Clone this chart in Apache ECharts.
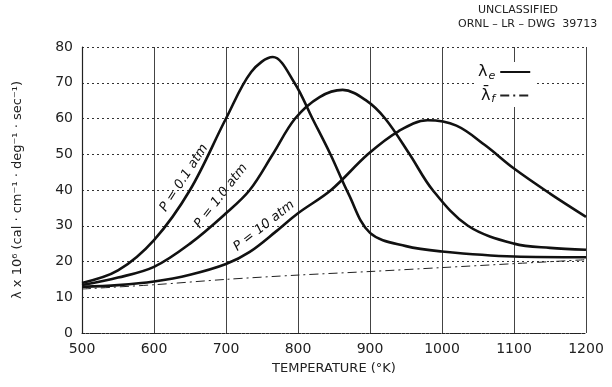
<!DOCTYPE html>
<html>
<head>
<meta charset="utf-8">
<script src="https://cdn.jsdelivr.net/npm/echarts@6/dist/echarts.min.js"></script>
<style>
  html, body { margin: 0; padding: 0; background: #fff; }
  #chart { width: 612px; height: 387px; }
</style>
</head>
<body>
<div id="chart"></div>
<script>
// values (temperature in °K, lambda x 10^6)
var temps01 = [500, 550, 600, 650, 700, 735, 765, 795, 820, 845, 870, 900, 950, 1000, 1100, 1200];
var vals01  = [14, 17.5, 26, 40, 60, 73, 77.2, 70, 60, 50, 39, 28, 24.3, 22.8, 21.4, 21.2];

var temps1 = [500, 550, 600, 650, 700, 733, 765, 796, 830, 862, 895, 921, 955, 987, 1036, 1100, 1150, 1200];
var vals1  = [13.4, 15.5, 18.5, 25, 33.5, 40, 50, 60, 66, 68, 65, 60, 50, 40, 30, 25, 23.8, 23.3];

var temps10 = [500, 550, 600, 650, 700, 733, 770, 800, 846, 897, 940, 980, 1020, 1060, 1100, 1150, 1200];
var vals10  = [12.9, 13.4, 14.4, 16.3, 19.3, 22.7, 28.5, 33.5, 40, 50, 56.5, 59.5, 58, 52.5, 46, 39, 32.5];

var tempsF = [500, 600, 700, 800, 900, 1000, 1100, 1200];
var valsF  = [12.3, 13.5, 15, 16.2, 17.2, 18.3, 19.4, 20.5];

var xTicks = [500, 600, 700, 800, 900, 1000, 1100, 1200];
var yTicks = [0, 10, 20, 30, 40, 50, 60, 70, 80];

function pairs(xs, ys) {
  return xs.map(function (x, i) { return [x, ys[i]]; });
}

var font = 'DejaVu Sans';
var chart = echarts.init(document.getElementById('chart'));

var solid = { color: '#111', width: 2.6 };

chart.setOption({
  backgroundColor: '#fff',
  animation: false,
  textStyle: { fontFamily: font },
  grid: { left: 82, top: 47, right: 26, bottom: 54 },
  xAxis: {
    type: 'value',
    min: xTicks[0],
    max: xTicks[xTicks.length - 1],
    interval: 100,
    name: 'TEMPERATURE (°K)',
    nameLocation: 'middle',
    nameGap: 29,
    nameTextStyle: { fontSize: 13, color: '#222', fontFamily: font },
    axisLine: { lineStyle: { color: '#222', width: 1, type: [3, 1] } },
    axisTick: { show: false },
    axisLabel: { fontSize: 14, color: '#222', margin: 9, formatter: function (v) { return String(v); } },
    splitLine: { show: true, lineStyle: { color: '#444', width: 1 } }
  },
  yAxis: {
    type: 'value',
    min: yTicks[0],
    max: yTicks[yTicks.length - 1],
    interval: 10,
    name: 'λ x 10⁶ (cal · cm⁻¹ · deg⁻¹ · sec⁻¹)',
    nameLocation: 'middle',
    nameGap: 58,
    nameTextStyle: { fontSize: 13, color: '#222', fontFamily: font },
    axisLine: { show: true, lineStyle: { color: '#222', width: 1.2 } },
    axisTick: { show: false },
    axisLabel: { fontSize: 14, color: '#222', margin: 9 },
    splitLine: { show: true, lineStyle: { color: '#333', width: 1, type: [2, 3] } }
  },
  legend: {
    data: ['λe', 'λf'],
    orient: 'vertical',
    left: 476,
    top: 62,
    align: 'right',
    itemWidth: 30,
    itemHeight: 10,
    itemGap: 6,
    itemStyle: { opacity: 0 },
    backgroundColor: '#fff',
    padding: [2, 4, 2, 2],
    formatter: function (name) {
      if (name === 'λe') return '{l|λ}{s|e}';
      return '{l|λ̄}{s|f}';
    },
    textStyle: {
      color: '#111',
      rich: {
        l: { fontSize: 16, fontFamily: font, color: '#111' },
        s: { fontSize: 11, fontStyle: 'italic', fontFamily: font, color: '#111', padding: [8, 0, 0, 1] }
      }
    }
  },
  graphic: [
    { type: 'text', left: 478, top: 5, style: { text: 'UNCLASSIFIED', font: '11px ' + font, fill: '#222' } },
    { type: 'text', left: 458, top: 19, style: { text: 'ORNL – LR – DWG  39713', font: '11px ' + font, fill: '#222' } },
    { type: 'text', x: 184, y: 178, rotation: 57 * Math.PI / 180,
      style: { text: 'P = 0.1 atm', font: 'italic 13px ' + font, fill: '#111', align: 'center', verticalAlign: 'middle' } },
    { type: 'text', x: 221, y: 196, rotation: 52 * Math.PI / 180,
      style: { text: 'P = 1.0 atm', font: 'italic 13px ' + font, fill: '#111', align: 'center', verticalAlign: 'middle' } },
    { type: 'text', x: 264, y: 226, rotation: 38 * Math.PI / 180,
      style: { text: 'P = 10 atm', font: 'italic 13px ' + font, fill: '#111', align: 'center', verticalAlign: 'middle' } }
  ],
  series: [
    {
      name: 'λe', type: 'line', data: pairs(temps01, vals01),
      smooth: 0.35, symbol: 'none', lineStyle: solid, itemStyle: { color: '#111' }
    },
    {
      name: 'λe', type: 'line', data: pairs(temps1, vals1),
      smooth: 0.35, symbol: 'none', lineStyle: solid, itemStyle: { color: '#111' }
    },
    {
      name: 'λe', type: 'line', data: pairs(temps10, vals10),
      smooth: 0.35, symbol: 'none', lineStyle: solid, itemStyle: { color: '#111' }
    },
    {
      name: 'λf', type: 'line', data: pairs(tempsF, valsF),
      smooth: 0.3, symbol: 'none',
      lineStyle: { color: '#222', width: 1, type: [9, 4, 2, 4] }, itemStyle: { color: '#222' }
    }
  ]
});
</script>
</body>
</html>
